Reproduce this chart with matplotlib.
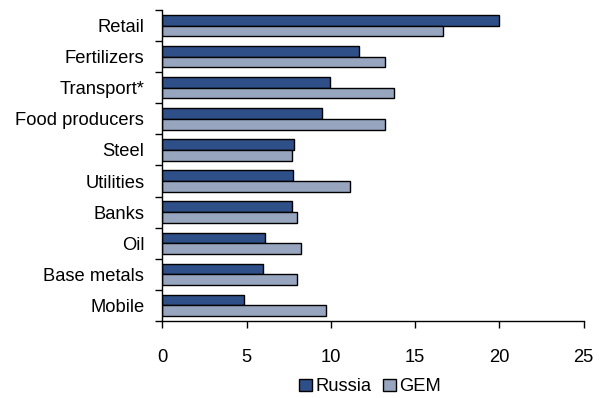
import numpy as np
import matplotlib
matplotlib.use('Agg')
import matplotlib.pyplot as plt
from matplotlib.ticker import FixedLocator

plt.rcParams['font.family'] = ['Liberation Sans', 'DejaVu Sans']

# data
sectors = ['Retail', 'Fertilizers', 'Transport*', 'Food producers', 'Steel',
           'Utilities', 'Banks', 'Oil', 'Base metals', 'Mobile']
russia = [20.0, 11.65, 9.95, 9.45, 7.8, 7.73, 7.67, 6.1, 5.95, 4.83]
gem = [16.65, 13.2, 13.75, 13.2, 7.67, 11.15, 7.97, 8.25, 7.97, 9.7]
xticks = [0, 5, 10, 15, 20, 25]

russia_color = '#2F4F88'
gem_color = '#97A6BE'
fs = 13.2

fig = plt.figure(figsize=(6.03, 3.98), dpi=100)
ax = fig.add_axes([0.2692, 0.1935, 0.968 - 0.2692, 0.9749 - 0.1935])

y = np.arange(len(sectors))
h = 0.345
ax.barh(y - h / 2, russia, height=h, color=russia_color, edgecolor='black',
        linewidth=1.0, label='Russia')
ax.barh(y + h / 2, gem, height=h, color=gem_color, edgecolor='black',
        linewidth=1.0, label='GEM')

ax.set_ylim(len(sectors) - 0.5, -0.5)
ax.set_xlim(0, 25)

ax.set_yticks(y)
ax.set_yticklabels(sectors, fontsize=fs)
ax.tick_params(axis='y', which='major', length=0, pad=13)
ax.yaxis.set_minor_locator(FixedLocator(np.arange(-0.5, len(sectors), 1)))
ax.tick_params(axis='y', which='minor', length=5, width=1, direction='out')

ax.set_xticks(xticks)
ax.set_xticklabels([str(t) for t in xticks], fontsize=fs)
ax.tick_params(axis='x', length=5, width=1, direction='out', pad=15)

for side in ['top', 'right']:
    ax.spines[side].set_visible(False)
for side in ['left', 'bottom']:
    ax.spines[side].set_linewidth(1.0)

fig.legend(loc='center', bbox_to_anchor=(0.614, 0.028), ncol=2, frameon=False,
           fontsize=fs, handlelength=0.7, handleheight=0.7,
           handletextpad=0.2, columnspacing=0.6, borderpad=0)

fig.savefig('out.png', dpi=100)
